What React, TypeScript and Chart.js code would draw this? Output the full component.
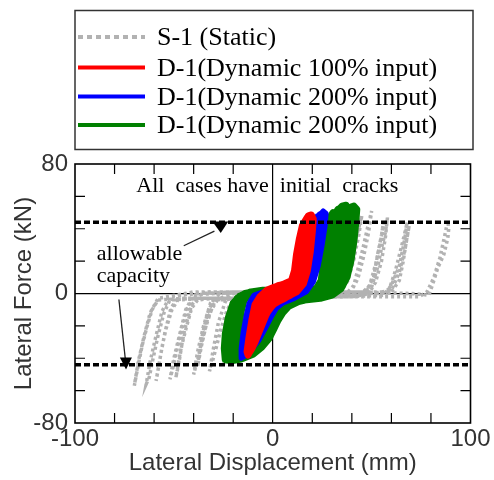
import { useEffect, useRef } from 'react';
import { Chart, registerables } from 'chart.js';

Chart.register(...registerables);

// ---- axis / tick values ----
const xTickValues = [-100, 0, 100];
const yTickValues = [-80, 0, 80];
const xMinorTicks = [-80, -60, -40, -20, 20, 40, 60, 80];
const yMinorTicks = [-60, -40, -20, 20, 40, 60];
const capacityLevels = [44, -44];

// ---- legend labels ----
const seriesLabels = [
  'S-1 (Static)',
  'D-1(Dynamic 100% input)',
  'D-1(Dynamic 200% input)',
  'D-1(Dynamic 200% input)',
];

// ---- S-1 static (displacement mm, force kN) ----
const staticS1: number[][] = [
  [0, 0], [5, 1], [8, 4], [10, 12], [12, 24], [14, 34], [15, 40], [14, 30], [12, 16], [9, 4], [6, -1], [0, -2], [-6, -3], [-9, -6], [-12, -14], [-14.5, -24], [-16.5, -32], [-18, -38], [-17, -28], [-15, -14], [-12, -4], [-8, 1], [0, 1],
  [8, 1], [12, 2], [15, 8], [17, 18], [19, 29], [21, 38], [22, 44], [21, 33], [19, 19], [16, 7], [13, 0], [6, -2], [-4, -3], [-13, -4], [-16, -9], [-19, -19], [-21.5, -30], [-23.5, -39], [-25, -44], [-23.5, -32], [-21, -17], [-18, -5], [-14, 0], [-6, 1], [0, 1],
  [10, 1], [20, 1], [24, 4], [27, 15], [29.5, 27], [31.5, 38], [33, 46], [32, 34], [29.5, 18], [26, 6], [22, -1], [12, -2], [0, -3], [-12, -3], [-20, -4], [-23, -10], [-26, -21], [-28.5, -33], [-30.5, -42], [-32, -48], [-30, -34], [-27.5, -18], [-24, -5], [-20, 0], [-10, 1], [0, 1],
  [15, 1], [30, 1], [35, 3], [38, 13], [40.5, 25], [42.5, 36], [44, 43], [45, 48], [43.5, 36], [41, 21], [38, 8], [34, 0], [25, -2], [10, -2], [0, -3], [-15, -3], [-28, -4], [-31, -10], [-34, -21], [-36.5, -33], [-38.5, -43], [-40, -50], [-38, -36], [-35, -20], [-31.5, -6], [-27, 0], [-15, 1], [0, 1],
  [20, 1], [38, 1], [41, 5], [43.5, 17], [46, 30], [48, 41], [50, 51], [48.5, 38], [46, 23], [43, 9], [39, 0], [28, -2], [10, -2], [-10, -3], [-30, -3], [-38, -4], [-41, -9], [-43.5, -20], [-46, -32], [-47.5, -43], [-49, -52], [-47, -38], [-44.5, -22], [-41, -7], [-36, 0], [-20, 1], [0, 1],
  [25, 1], [46, 1], [50, 4], [53, 16], [55, 28], [57, 38], [58, 47], [57, 35], [55, 20], [52, 7], [48, -1], [35, -2], [15, -2], [-10, -3], [-35, -3], [-48, -4], [-51, -10], [-54, -22], [-56, -33], [-57.5, -44], [-59, -54], [-57, -40], [-54.5, -24], [-51.5, -9], [-47, -1], [-30, 1], [0, 1],
  [30, 1], [55, 0], [59, 3], [62, 14], [64.5, 26], [66.5, 36], [68, 44], [66.5, 32], [64, 17], [60, 5], [56, -1], [40, -2], [15, -2], [-15, -3], [-45, -3], [-58, -4], [-61, -10], [-63.5, -20], [-66, -32], [-68, -44], [-70, -57], [-68, -42], [-65, -26], [-62, -12], [-58, -3], [-40, 1], [0, 1],
  [40, 1], [70, 0], [79, -1], [81.5, 8], [83.5, 16], [86.5, 24], [88.5, 34], [89, 40], [88.5, 45], [87, 36], [84.5, 22], [81.5, 10], [78, 1], [74, -2], [50, -2], [20, -2], [0, -3],
  [-20, -3], [-30, -4], [-33, -12], [-35.5, -25], [-37, -36], [-38, -45], [-36, -32], [-33, -16], [-29, -4], [-20, 0], [0, 1], [30, 1], [47, 1], [51, 10], [53, 24], [55, 36], [56, 44], [54.5, 32], [52, 18], [49, 5], [44, -1], [20, -2], [-10, -3], [-40, -3],
  [-43, -9], [-46, -22], [-48.5, -35], [-50.5, -46], [-52, -53], [-50, -40], [-47, -25], [-44, -10], [-40, -1], [-20, 1], [0, 1], [40, 1], [60, 1], [64, 8], [66, 20], [67.5, 32], [69, 42], [67, 28], [64, 13], [60, 2], [40, -2], [0, -3], [-40, -3],
  [-52, -4], [-55, -12], [-58, -26], [-60.5, -40], [-62.5, -52], [-64, -56], [-62, -42], [-59, -26], [-56, -11], [-52, -2], [-30, 1], [0, 1],
];

// ---- D-1 dynamic 100% (red) ----
const dynamic100: number[][] = [
  [0, 0], [4, 4], [8, 5], [10, 7], [11, 12], [12, 22], [13.5, 34], [15, 42], [16.5, 45], [17.5, 44], [17, 36], [16, 24], [14.5, 13], [12.5, 5], [9, 0], [4, -3], [0, -5], [-3, -10], [-6, -19], [-8.5, -28], [-10.5, -34], [-11, -32], [-10, -22], [-8.5, -12], [-7, -5], [-5, -1], [-2, 2],
  [2, 4], [7, 6], [10.5, 8], [12, 14], [13, 24], [14.5, 35], [16, 43], [18, 48], [19.5, 48.5], [20.5, 46], [20, 38], [19, 26], [17.5, 14], [15.5, 6], [12, 1], [7, -2], [2, -5], [-1, -8], [-4, -14], [-7, -24], [-10, -32], [-12.5, -38], [-13, -36], [-12, -27], [-10.5, -16], [-9, -7], [-6.5, -2], [-3, 2],
  [1, 4], [6, 6], [9.5, 8], [11, 14], [12, 24], [13.5, 34], [15.5, 43], [17.5, 47], [19, 47.5], [19.5, 44], [19, 34], [17.5, 20], [15.5, 9], [13, 3], [9, -1], [4, -4], [0, -7], [-3, -12], [-6, -21], [-9, -30], [-11.5, -36], [-12, -34], [-11, -24], [-9.5, -13], [-8, -5], [-5.5, -1], [-2, 2],
  [3, 5], [8, 6], [11, 10], [12.5, 20], [14, 32], [16, 40], [18, 44], [18.5, 40], [17.5, 28], [16, 16], [14, 7], [11, 2], [6, -2], [2, -4], [-1, -6], [-4, -12], [-7, -20], [-9, -26], [-8.5, -20], [-7, -10], [-5, -3], [-2, 1], [0, 2],
  [4, 5], [9, 7], [11.5, 11], [13, 22], [14.5, 33], [16.5, 42], [18.5, 46], [19, 42], [18, 30], [16.5, 18], [14.5, 8], [11, 1], [6, -3], [1, -6], [-2, -10], [-5, -17], [-8, -27], [-11, -35], [-12, -33], [-11, -20], [-9, -9], [-6, -2], [-3, 2], [0, 3],
  [2, 1], [7, 2], [11, 5], [13, 14], [14.5, 26], [16, 36], [17.5, 43], [18.5, 44], [17.5, 34], [16, 22], [14, 10], [11, 3], [6, -1], [1, -3], [-3, -7], [-5.5, -14], [-7.5, -22], [-9.5, -30], [-10.5, -33], [-9.5, -26], [-8, -17], [-7, -10], [-5, -4], [-2, -1], [2, 1],
];

// ---- D-1 dynamic 200% (blue) ----
const dynamic200a: number[][] = [
  [0, 1], [6, 2], [12, 2], [16, 4], [18, 10], [19.5, 22], [21, 34], [22.5, 43], [24, 49], [25.5, 51], [27, 49.5], [26.5, 42], [25, 30], [23, 17], [20.5, 7], [17, 1], [11, -3], [5, -6], [2, -9], [-0.5, -14], [-3.5, -21], [-7, -29], [-11, -35], [-14.5, -39], [-16, -40], [-16, -34], [-15, -24], [-13.5, -14], [-12, -6], [-9.5, -1], [-5, 1], [0, 2],
  [6, 2], [12, 3], [15, 6], [16.5, 14], [18, 26], [19.5, 37], [21, 45], [22.5, 48], [23.5, 46], [23, 36], [21.5, 22], [19.5, 10], [16.5, 3], [11, -2], [5, -5], [1, -8], [-1.5, -13], [-4.5, -21], [-8, -29], [-11.5, -35], [-14, -37], [-14, -30], [-13, -20], [-11.5, -10], [-9.5, -3], [-6, 0], [-1, 1],
  [5, 2], [11, 3], [15.5, 5], [17.5, 12], [19, 24], [20.5, 35], [22, 44], [23.5, 49], [25, 50], [25.5, 47], [25, 38], [23.5, 25], [21.5, 13], [18.5, 4], [13, -1], [7, -4], [3, -7], [0, -11], [-2.5, -17], [-6, -25], [-10, -33], [-13.5, -38], [-15, -39], [-15, -32], [-14, -22], [-12.5, -12], [-10.5, -4], [-7, 0], [-2, 1], [3, 2],
  [0, 1], [6, 1], [11, 2], [14.5, 4], [16, 10], [17.5, 22], [19, 33], [20.5, 42], [21.5, 45], [21.5, 38], [20.5, 26], [18.5, 13], [16, 4], [11, -1], [5, -4], [1, -6], [-2, -10], [-4.5, -16], [-7.5, -24], [-10.5, -31], [-12.5, -35], [-12.5, -28], [-11.5, -19], [-10.5, -10], [-8.5, -3], [-5, 0], [0, 1],
];

// ---- D-1 dynamic 200% (green) ----
const dynamic200b: number[][] = [
  [0, 1], [8, 2], [16, 2], [22, 3], [24.5, 8], [25.5, 18], [26.5, 30], [27.5, 40], [29, 47], [30.5, 50], [31.5, 48], [31, 40], [30, 28], [28.5, 16], [26.5, 6], [23, 0], [17, -2], [11, -4], [6, -7], [3, -11], [1, -16], [-1, -21], [-3.5, -27], [-7, -33], [-11, -37], [-15, -38.5], [-19, -38], [-20, -32], [-19.5, -22], [-18, -12], [-16, -5], [-13, -1], [-8, 1], [-2, 2],
  [6, 2], [14, 2], [22, 2], [26, 4], [28, 10], [29, 22], [30, 34], [31.5, 44], [33, 51], [35, 54], [37, 54.5], [37.5, 50], [37, 40], [36, 27], [34.5, 15], [32, 6], [28, 0], [21, -2], [14, -4], [8, -7], [4.5, -11], [2, -16], [0, -21], [-2.5, -27], [-6, -33], [-10, -37.5], [-15, -40], [-20, -41], [-23, -40.5], [-23.5, -33], [-23, -23], [-21.5, -13], [-19, -5], [-15.5, -1], [-10, 1], [-4, 2],
  [4, 2], [12, 2], [20, 2], [27, 3], [30, 8], [32, 18], [33.5, 30], [35, 40], [36.5, 48], [38.5, 53], [41, 54], [42.5, 52], [42, 44], [41, 32], [39.5, 20], [37.5, 10], [34.5, 3], [30, -1], [24, -3], [16, -4], [10, -6], [6, -9], [3.5, -13], [1.5, -18], [-0.5, -23], [-3, -29], [-6.5, -34], [-11, -38], [-16, -40.5], [-21, -41.5], [-24, -41], [-24.5, -34], [-24, -25], [-22.5, -15], [-20, -6], [-16.5, -1.5], [-11, 1], [-5, 2],
  [5, 2], [13, 2], [21, 2], [26, 3], [28.5, 7], [30, 17], [31, 28], [32.5, 38], [34, 46], [35.5, 51], [37, 53], [38.5, 52.5], [39.5, 49], [39, 40], [38, 28], [36.5, 16], [34.5, 7], [31, 1], [25, -2], [18, -3], [12, -5], [7, -8], [4, -12], [1.5, -17], [-0.5, -22], [-3, -28], [-6.5, -33.5], [-10.5, -37], [-15, -39.5], [-19.5, -40], [-22, -39], [-22, -31], [-21, -21], [-19.5, -11], [-17, -4], [-13.5, -0.5], [-7, 1.5], [0, 2],
  [3, 2], [11, 2], [19, 2], [24, 3], [26.5, 9], [27.5, 20], [28.5, 32], [30, 42], [31.5, 49], [33, 52], [34.5, 51], [34.5, 44], [33.5, 32], [32, 20], [30, 9], [27, 2], [21, -1], [14, -3], [9, -6], [5, -9], [2.5, -14], [0.5, -19], [-2, -25], [-5, -31], [-9, -36], [-13.5, -39], [-18, -40], [-21, -39.5], [-21.5, -32], [-21, -22], [-19.5, -12], [-17.5, -5], [-14, -1], [-9, 1], [-3, 2],
  [4, 2], [12, 2], [20, 2], [27, 2], [31, 6], [33, 16], [34.5, 28], [36, 38], [37.5, 46], [39, 51], [40.5, 53], [41.5, 50], [41, 42], [40, 30], [38.5, 18], [36.5, 8], [33, 2], [27, -1], [20, -3], [13, -5], [8, -8], [5, -12], [2.5, -17], [0.5, -22], [-2, -28], [-5.5, -33], [-10, -37.5], [-15, -40], [-20, -41], [-23, -40], [-23, -30], [-22, -20], [-20.5, -10], [-18, -3], [-14, 0], [-8, 1.5], [0, 2],
  [8, 2], [16, 2], [22, 2], [25, 5], [26.5, 14], [27.5, 26], [29, 38], [30, 44], [30, 36], [29, 24], [27, 12], [24.5, 4], [20, 0], [14, -2], [8, -5], [4, -9], [1.5, -14], [-0.5, -19], [-3, -25], [-6.5, -31], [-10.5, -35], [-14.5, -37.5], [-17.5, -37], [-17.5, -30], [-17, -20], [-16, -11], [-14.5, -4], [-12, -1], [-7, 1], [0, 2],
];

// ---- annotation anchors (data coordinates) ----
const noteCracks = { x: -69, y: 62.4, text: 'All  cases have  initial  cracks' };
const noteCapacity = { x: -89, y1: 21, y2: 7.4, line1: 'allowable', line2: 'capacity' };
const arrowUpper = { from: [-45, 29.5], to: [-29.5, 38.5], head: [[-30.5, 44.5], [-22.5, 44.5], [-26.3, 37.3]] };
const arrowLower = { from: [-77.8, -3.7], to: [-74.6, -40], head: [[-77.3, -39.5], [-71.2, -39.5], [-74.2, -47]] };

const toPoints = (arr: number[][]) => arr.map(([x, y]) => ({ x, y }));

const SANS = '"Liberation Sans", Arial, sans-serif';
const SERIF = '"Liberation Serif", "Times New Roman", serif';
const AXIS_TEXT = '#333';

const decorPlugin = {
  id: 'decor',
  afterDatasetsDraw(chart: any) {
    const { ctx, chartArea: a, scales } = chart;
    const xs = scales.x;
    const ys = scales.y;
    ctx.save();
    ctx.setLineDash([]);
    ctx.strokeStyle = '#000';
    ctx.lineWidth = 1.2;
    ctx.beginPath();
    for (const v of xMinorTicks) {
      const px = xs.getPixelForValue(v);
      ctx.moveTo(px, a.top);
      ctx.lineTo(px, a.top + 10);
      ctx.moveTo(px, a.bottom);
      ctx.lineTo(px, a.bottom - 10);
    }
    for (const v of yMinorTicks) {
      const py = ys.getPixelForValue(v);
      ctx.moveTo(a.left, py);
      ctx.lineTo(a.left + 10, py);
      ctx.moveTo(a.right, py);
      ctx.lineTo(a.right - 10, py);
    }
    ctx.stroke();
    ctx.lineWidth = 1.6;
    ctx.strokeRect(a.left, a.top, a.right - a.left, a.bottom - a.top);

    // annotations
    ctx.fillStyle = '#000';
    ctx.font = `22px ${SERIF}`;
    ctx.textAlign = 'left';
    ctx.textBaseline = 'alphabetic';
    ctx.fillText(noteCracks.text, xs.getPixelForValue(noteCracks.x), ys.getPixelForValue(noteCracks.y));
    ctx.fillText(noteCapacity.line1, xs.getPixelForValue(noteCapacity.x), ys.getPixelForValue(noteCapacity.y1));
    ctx.fillText(noteCapacity.line2, xs.getPixelForValue(noteCapacity.x), ys.getPixelForValue(noteCapacity.y2));

    for (const ar of [arrowUpper, arrowLower]) {
      ctx.lineWidth = 1.3;
      ctx.strokeStyle = '#222';
      ctx.beginPath();
      ctx.moveTo(xs.getPixelForValue(ar.from[0]), ys.getPixelForValue(ar.from[1]));
      ctx.lineTo(xs.getPixelForValue(ar.to[0]), ys.getPixelForValue(ar.to[1]));
      ctx.stroke();
      ctx.beginPath();
      ar.head.forEach(([hx, hy], i) => {
        const px = xs.getPixelForValue(hx);
        const py = ys.getPixelForValue(hy);
        if (i === 0) ctx.moveTo(px, py);
        else ctx.lineTo(px, py);
      });
      ctx.closePath();
      ctx.fillStyle = '#000';
      ctx.fill();
    }
    ctx.restore();
  },
  afterDraw(chart: any) {
    const ctx = chart.ctx;
    ctx.save();
    ctx.strokeStyle = '#333';
    ctx.lineWidth = 1.5;
    ctx.setLineDash([]);
    ctx.strokeRect(75, 10.5, 398, 139);
    const rows = [37, 67.5, 96.5, 125];
    chart.data.datasets.slice(0, 4).forEach((ds: any, i: number) => {
      ctx.beginPath();
      ctx.setLineDash(i === 0 ? [5, 4] : []);
      ctx.strokeStyle = ds.borderColor;
      ctx.lineWidth = 4;
      ctx.moveTo(78, rows[i]);
      ctx.lineTo(145, rows[i]);
      ctx.stroke();
      ctx.setLineDash([]);
      ctx.fillStyle = '#000';
      ctx.font = `26px ${SERIF}`;
      ctx.textAlign = 'left';
      ctx.textBaseline = 'alphabetic';
      ctx.fillText(ds.label, 157, rows[i] + 8);
    });
    ctx.restore();
  },
};

export default function App() {
  const ref = useRef<HTMLCanvasElement | null>(null);

  useEffect(() => {
    if (!ref.current) return;
    const gridColor = (c: any) => (c.tick && c.tick.value === 0 ? '#000' : 'rgba(0,0,0,0)');
    const chart = new Chart(ref.current, {
      type: 'scatter',
      data: {
        datasets: [
          {
            label: seriesLabels[0],
            data: toPoints(staticS1),
            showLine: true,
            borderColor: '#b2b2b2',
            backgroundColor: '#b2b2b2',
            borderWidth: 3.5,
            borderDash: [3, 3],
            pointRadius: 0,
            tension: 0,
            order: 4,
          },
          {
            label: seriesLabels[1],
            data: toPoints(dynamic100),
            showLine: true,
            borderColor: '#ff0000',
            backgroundColor: '#ff0000',
            borderWidth: 7,
            borderJoinStyle: 'round',
            pointRadius: 0,
            tension: 0,
            order: 1,
          },
          {
            label: seriesLabels[2],
            data: toPoints(dynamic200a),
            showLine: true,
            borderColor: '#0000ff',
            backgroundColor: '#0000ff',
            borderWidth: 5,
            borderJoinStyle: 'round',
            pointRadius: 0,
            tension: 0,
            order: 2,
          },
          {
            label: seriesLabels[3],
            data: toPoints(dynamic200b),
            showLine: true,
            borderColor: '#008000',
            backgroundColor: '#008000',
            borderWidth: 7,
            borderJoinStyle: 'round',
            pointRadius: 0,
            tension: 0,
            order: 3,
          },
          ...capacityLevels.map((lv) => ({
            label: 'allowable capacity',
            data: [{ x: -100, y: lv }, { x: 100, y: lv }],
            showLine: true,
            borderColor: '#000',
            backgroundColor: '#000',
            borderWidth: 3.5,
            borderDash: [6, 3],
            pointRadius: 0,
            tension: 0,
            order: 0,
          })),
        ],
      },
      options: {
        animation: false,
        responsive: false,
        devicePixelRatio: 1,
        layout: { padding: { top: 164, right: 23.5, left: 0, bottom: 0 } },
        plugins: {
          legend: { display: false },
          tooltip: { enabled: false },
        },
        scales: {
          x: {
            type: 'linear',
            min: -100,
            max: 100,
            afterBuildTicks: (s: any) => {
              s.ticks = xTickValues.map((v) => ({ value: v }));
            },
            afterFit: (s: any) => {
              s.height = 57;
            },
            ticks: { font: { size: 24, family: SANS }, color: AXIS_TEXT, padding: 2, maxRotation: 0 },
            grid: { color: gridColor, lineWidth: 1.2, drawTicks: false },
            border: { display: false },
            title: {
              display: true,
              text: 'Lateral Displacement (mm)',
              font: { size: 24, family: SANS },
              color: AXIS_TEXT,
              padding: { top: 0, bottom: 2 },
            },
          },
          y: {
            type: 'linear',
            min: -80,
            max: 80,
            afterBuildTicks: (s: any) => {
              s.ticks = yTickValues.map((v) => ({ value: v }));
            },
            afterFit: (s: any) => {
              s.width = 75;
            },
            ticks: { font: { size: 24, family: SANS }, color: AXIS_TEXT, padding: 7 },
            grid: { color: gridColor, lineWidth: 1.2, drawTicks: false },
            border: { display: false },
            title: {
              display: true,
              text: 'Lateral Force (kN)',
              font: { size: 24, family: SANS },
              color: AXIS_TEXT,
              padding: { top: 10, bottom: 0 },
            },
          },
        },
      } as any,
      plugins: [decorPlugin],
    });
    return () => chart.destroy();
  }, []);

  return (
    <div style={{ position: 'fixed', left: 0, top: 0, width: 494, height: 480 }}>
      <canvas ref={ref} width={494} height={480} style={{ display: 'block' }} />
    </div>
  );
}
